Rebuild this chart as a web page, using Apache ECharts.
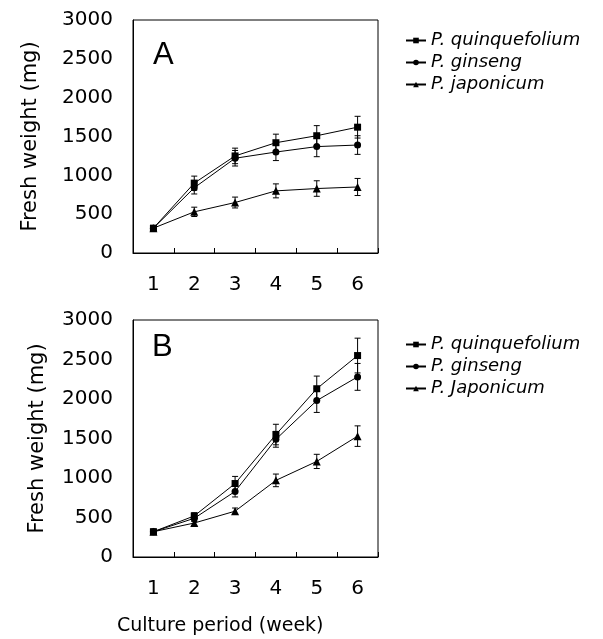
<!DOCTYPE html>
<html>
<head>
<meta charset="utf-8">
<script src="https://cdn.jsdelivr.net/npm/echarts@6/dist/echarts.min.js"></script>
<style>html,body{margin:0;padding:0;background:#fff}#c{width:603px;height:639px}</style>
</head>
<body>
<div id="c"></div>
<script>
// ---- data ----
const weeks = ['1', '2', '3', '4', '5', '6'];
const yTicks = [0, 500, 1000, 1500, 2000, 2500, 3000];

const namesA = ['P. quinquefolium', 'P. ginseng', 'P. japonicum'];
const namesB = ['P. quinquefolium', 'P. ginseng', 'P. Japonicum'];

// Panel A: mean fresh weight (mg) and error
const A_quinquefolium = [320, 900, 1250, 1420, 1510, 1620];
const A_ginseng       = [320, 840, 1220, 1300, 1370, 1390];
const A_japonicum     = [320, 530, 650, 800, 830, 850];
const A_quinquefolium_err = [30, 90, 100, 110, 130, 140];
const A_ginseng_err       = [30, 80, 100, 110, 130, 120];
const A_japonicum_err     = [30, 60, 70, 90, 100, 110];

// Panel B
const B_quinquefolium = [320, 520, 930, 1550, 2130, 2550];
const B_ginseng       = [320, 490, 830, 1490, 1980, 2280];
const B_japonicum     = [320, 430, 580, 970, 1210, 1530];
const B_quinquefolium_err = [30, 40, 90, 130, 160, 220];
const B_ginseng_err       = [30, 40, 70, 100, 150, 170];
const B_japonicum_err     = [30, 30, 40, 80, 90, 130];

const symbols = ['rect', 'circle', 'triangle'];
const symbolSizes = [7, 7, 8];

// ---- build ----
const tickFont = 'DejaVu Sans';
function errData(mean, err) {
  return mean.map((m, i) => [i, m - err[i], m + err[i]]);
}
function errRender(params, api) {
  const x = api.value(0);
  const lo = api.coord([x, api.value(1)]);
  const hi = api.coord([x, api.value(2)]);
  const w = 3;
  const st = { stroke: '#000', lineWidth: 1 };
  return {
    type: 'group',
    children: [
      { type: 'line', shape: { x1: lo[0], y1: lo[1], x2: hi[0], y2: hi[1] }, style: st },
      { type: 'line', shape: { x1: lo[0] - w, y1: lo[1], x2: lo[0] + w, y2: lo[1] }, style: st },
      { type: 'line', shape: { x1: hi[0] - w, y1: hi[1], x2: hi[0] + w, y2: hi[1] }, style: st }
    ]
  };
}

const grids = [
  { left: 133, top: 20, width: 245, height: 233, show: true, borderColor: '#000', borderWidth: 1 },
  { left: 133, top: 320, width: 245, height: 237, show: true, borderColor: '#000', borderWidth: 1 }
];

function xAxisFor(gi) {
  return {
    type: 'category', gridIndex: gi, data: weeks, boundaryGap: true,
    axisLine: { lineStyle: { color: '#000', width: 1 } },
    axisTick: { show: true, inside: true, length: 5, alignWithLabel: false, lineStyle: { color: '#000' } },
    axisLabel: { color: '#000', fontFamily: tickFont, fontSize: 20, margin: 22 },
    splitLine: { show: false }
  };
}
function yAxisFor(gi, gap) {
  return {
    type: 'value', gridIndex: gi, min: yTicks[0], max: yTicks[yTicks.length - 1],
    interval: yTicks[1] - yTicks[0],
    axisLine: { show: true, lineStyle: { color: '#000', width: 1 } },
    axisTick: { show: false },
    splitLine: { show: false },
    axisLabel: { color: '#000', fontFamily: tickFont, fontSize: 20, margin: 20, formatter: v => String(v) },
    name: 'Fresh weight (mg)', nameLocation: 'middle', nameGap: gap, nameRotate: 90,
    nameTextStyle: { color: '#000', fontFamily: tickFont, fontSize: 21 }
  };
}

const panels = [
  { names: namesA, means: [A_quinquefolium, A_ginseng, A_japonicum], errs: [A_quinquefolium_err, A_ginseng_err, A_japonicum_err] },
  { names: namesB, means: [B_quinquefolium, B_ginseng, B_japonicum], errs: [B_quinquefolium_err, B_ginseng_err, B_japonicum_err] }
];

const series = [];
panels.forEach((p, gi) => {
  p.means.forEach((m, si) => {
    series.push({
      type: 'custom', xAxisIndex: gi, yAxisIndex: gi,
      renderItem: errRender, data: errData(m, p.errs[si]),
      encode: { x: 0, y: [1, 2] }, silent: true, z: 3
    });
  });
  p.means.forEach((m, si) => {
    series.push({
      type: 'line', name: p.names[si], xAxisIndex: gi, yAxisIndex: gi, data: m,
      symbol: symbols[si], symbolSize: symbolSizes[si], showSymbol: true,
      lineStyle: { color: '#000', width: 1 }, itemStyle: { color: '#000' },
      z: 4
    });
  });
});

function legendFor(names, top) {
  return {
    orient: 'vertical', left: 400, top: top, data: names,
    itemWidth: 20, itemHeight: 7, itemGap: 3, selectedMode: false,
    textStyle: { color: '#000', fontFamily: tickFont, fontStyle: 'italic', fontSize: 18, lineHeight: 19 }
  };
}

const option = {
  animation: false,
  backgroundColor: '#fff',
  grid: grids,
  xAxis: [xAxisFor(0), xAxisFor(1)],
  yAxis: [yAxisFor(0, 92), yAxisFor(1, 85)],
  legend: [legendFor(namesA, 26), legendFor(namesB, 330)],
  graphic: [
    { type: 'text', left: 153, top: 40, style: { text: 'A', font: '31px "Liberation Sans"', fill: '#000' } },
    { type: 'text', left: 152, top: 332, style: { text: 'B', font: '31px "Liberation Sans"', fill: '#000' } },
    { type: 'text', left: 117, top: 617, style: { text: 'Culture period (week)', font: '19px "DejaVu Sans"', fill: '#000' } }
  ],
  series: series
};

const chart = echarts.init(document.getElementById('c'), null, { renderer: 'canvas' });
chart.setOption(option);
</script>
</body>
</html>
